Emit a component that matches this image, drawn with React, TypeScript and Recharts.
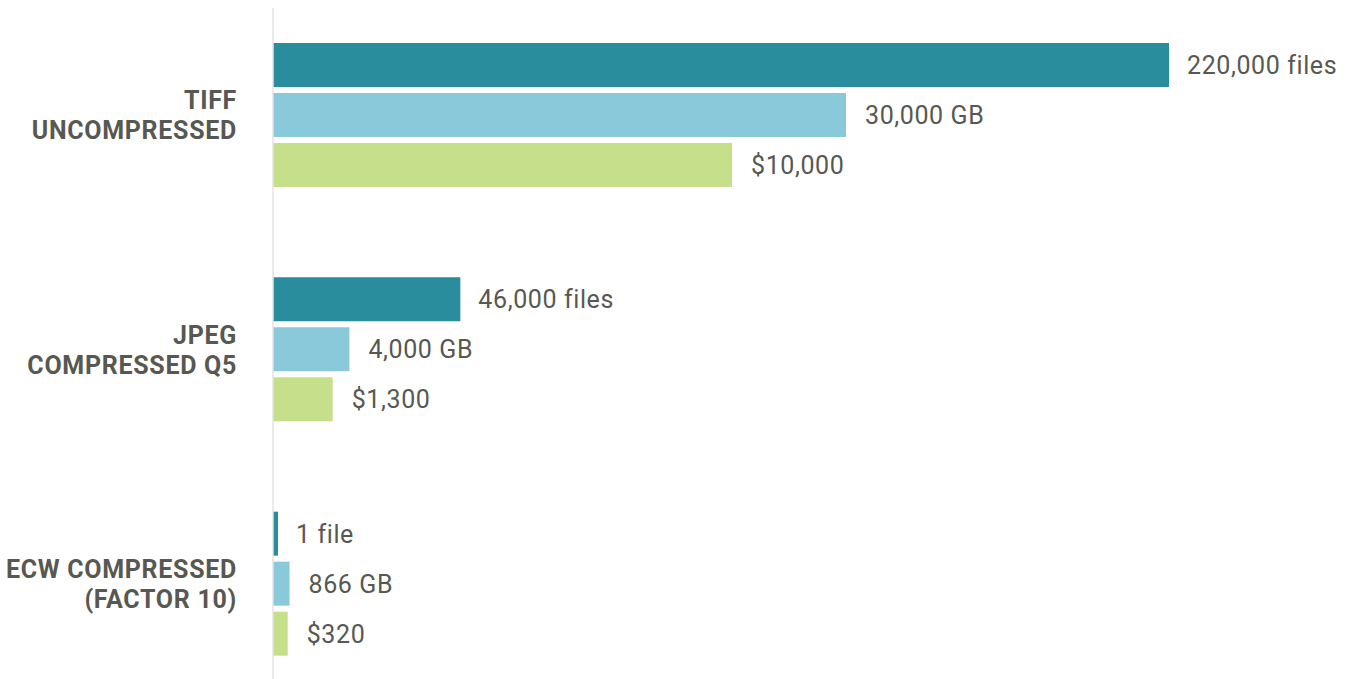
import React from 'react';
import { BarChart, Bar, XAxis, YAxis, LabelList } from 'recharts';

const categories = ['TIFF\nUNCOMPRESSED', 'JPEG\nCOMPRESSED Q5', 'ECW COMPRESSED\n(FACTOR 10)'];
const fileCounts = [220000, 46000, 1];
const storageGb = [30000, 4000, 866];
const costUsd = [10000, 1300, 320];

const TEXT = '#585852';
const FONT = 'Roboto, "Noto Sans", sans-serif';

const data = categories.map((name, i) => ({
  name,
  files: fileCounts[i],
  storage: storageGb[i],
  cost: costUsd[i],
}));

const num = (v: any) => Number(v).toLocaleString('en-US');
const fmtFiles = (v: any) => `${num(v)} ${Number(v) === 1 ? 'file' : 'files'}`;
const fmtStorage = (v: any) => `${num(v)} GB`;
const fmtCost = (v: any) => `$${num(v)}`;

const CategoryTick = ({ x, y, payload }: any) => {
  const lines = String(payload.value).split('\n');
  return (
    <text
      x={x}
      y={y}
      textAnchor="end"
      fill={TEXT}
      fontFamily={FONT}
      fontSize={25}
      fontWeight={700}
      letterSpacing={0.7}
    >
      {lines.map((line, i) => (
        <tspan key={i} x={x} y={y + (i - (lines.length - 1) / 2) * 30 + 9}>
          {line}
        </tspan>
      ))}
    </text>
  );
};

const labelStyle = { fill: TEXT, fontFamily: FONT, fontSize: 25, letterSpacing: 0.6 };

export default function App() {
  return (
    <div style={{ position: 'absolute', top: 0, left: 0, width: 1349, height: 679, overflow: 'hidden', background: '#fff' }}>
      <BarChart
        width={1349}
        height={679}
        data={data}
        layout="vertical"
        margin={{ top: 8, right: 76, bottom: 0, left: 0 }}
        barSize={44}
        barGap={6}
      >
        <YAxis
          type="category"
          dataKey="name"
          width={273}
          padding={{ top: -10, bottom: -22 }}
          axisLine={{ stroke: '#e3e3e3', strokeWidth: 1.5 }}
          tickLine={false}
          tickSize={0}
          tickMargin={36}
          tick={<CategoryTick />}
        />
        <XAxis xAxisId="files" type="number" hide domain={[0, (m: number) => m / 0.896]} />
        <XAxis xAxisId="storage" type="number" hide domain={[0, (m: number) => m / 0.573]} />
        <XAxis xAxisId="cost" type="number" hide domain={[0, (m: number) => m / 0.459]} />
        <Bar dataKey="files" xAxisId="files" fill="#2a8d9e" minPointSize={5} isAnimationActive={false}>
          <LabelList dataKey="files" position="right" offset={18} formatter={fmtFiles} style={labelStyle} />
        </Bar>
        <Bar dataKey="storage" xAxisId="storage" fill="#89c9d9" isAnimationActive={false}>
          <LabelList dataKey="storage" position="right" offset={19} formatter={fmtStorage} style={labelStyle} />
        </Bar>
        <Bar dataKey="cost" xAxisId="cost" fill="#c5df8b" isAnimationActive={false}>
          <LabelList dataKey="cost" position="right" offset={19} formatter={fmtCost} style={labelStyle} />
        </Bar>
      </BarChart>
    </div>
  );
}
